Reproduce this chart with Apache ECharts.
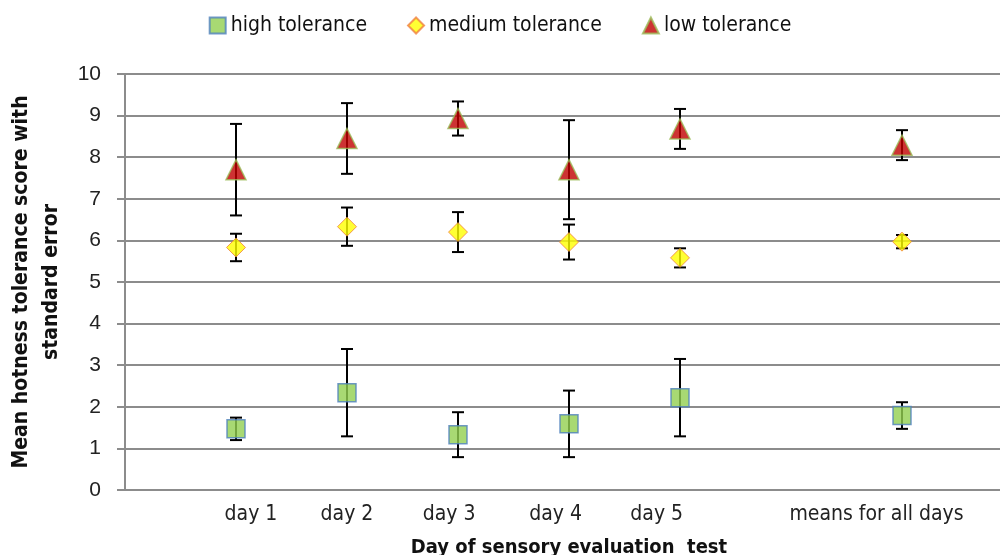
<!DOCTYPE html>
<html>
<head>
<meta charset="utf-8">
<script src="https://cdn.jsdelivr.net/npm/echarts@6/dist/echarts.min.js"></script>
<style>html,body{margin:0;padding:0;background:#fff}#c{width:1000px;height:555px}</style>
</head>
<body>
<div id="c"></div>
<script>
const categories = ['day 1', 'day 2', 'day 3', 'day 4', 'day 5', 'means for all days'];
const xPositions = [1, 2, 3, 4, 5, 7];
const highMean = [1.47, 2.34, 1.33, 1.59, 2.22, 1.79];
const highErr  = [0.27, 1.05, 0.54, 0.80, 0.93, 0.32];
const medMean  = [5.83, 6.33, 6.20, 5.96, 5.58, 5.97];
const medErr   = [0.33, 0.46, 0.48, 0.42, 0.23, 0.16];
const lowMean  = [7.70, 8.45, 8.93, 7.70, 8.68, 8.29];
const lowErr   = [1.10, 0.85, 0.41, 1.19, 0.48, 0.36];
const yTicks = [0,1,2,3,4,5,6,7,8,9,10];
// where Excel placed each category label (axis units)
const labelAt = [1.135, 2.0, 2.92, 3.88, 4.79, 6.77];

const FONT = '"Liberation Sans Narrow","DejaVu Sans Condensed","Liberation Sans",sans-serif';

function pts(means) { return means.map((m, i) => [xPositions[i], m]); }
function errs(means, e) { return means.map((m, i) => [xPositions[i], m - e[i], m + e[i]]); }

function errRender(params, api) {
  const x = api.value(0);
  const lo = api.coord([x, api.value(1)]);
  const hi = api.coord([x, api.value(2)]);
  const cap = 6;
  const style = { stroke: '#000', lineWidth: 2 };
  return {
    type: 'group',
    children: [
      { type: 'line', shape: { x1: lo[0], y1: lo[1], x2: hi[0], y2: hi[1] }, style },
      { type: 'line', shape: { x1: lo[0] - cap, y1: lo[1], x2: lo[0] + cap, y2: lo[1] }, style },
      { type: 'line', shape: { x1: hi[0] - cap, y1: hi[1], x2: hi[0] + cap, y2: hi[1] }, style }
    ]
  };
}

const chart = echarts.init(document.getElementById('c'), null, { renderer: 'canvas' });
const errSeries = (d) => ({
  type: 'custom', renderItem: errRender, data: d, z: 1, silent: true,
  encode: { x: 0, y: [1, 2] }
});
chart.setOption({
  animation: false,
  backgroundColor: '#fff',
  legend: {
    top: 10, left: 'center', itemGap: 40, itemWidth: 16, itemHeight: 16,
    textStyle: { fontFamily: FONT, fontSize: 21, color: '#111' },
    data: ['high tolerance', 'medium tolerance', 'low tolerance']
  },
  grid: { left: 125, right: -13, top: 74, bottom: 65, outerBoundsMode: 'none', containLabel: false },
  xAxis: {
    type: 'value', min: 0, max: 8, interval: 1,
    name: 'Day of sensory evaluation  test', nameLocation: 'middle', nameGap: 48,
    nameTextStyle: { fontFamily: FONT, fontSize: 20, fontWeight: 'bold', color: '#111' },
    axisLine: { show: false }, axisTick: { show: false }, splitLine: { show: false },
    axisLabel: {
      customValues: labelAt, margin: 14,
      fontFamily: FONT, fontSize: 21, color: '#222',
      formatter: (v) => { const i = labelAt.findIndex(p => Math.abs(p - v) < 1e-6); return i >= 0 ? categories[i] : ''; }
    }
  },
  yAxis: {
    type: 'value', min: 0, max: 10, interval: 1,
    name: 'Mean hotness tolerance score with\nstandard error', nameLocation: 'middle', nameGap: 56, nameRotate: 90,
    nameTextStyle: { fontFamily: FONT, fontSize: 21, fontWeight: 'bold', color: '#111', lineHeight: 30 },
    axisLine: { show: true, lineStyle: { color: '#8c8c8c', width: 2 } },
    axisTick: { show: true, length: 8, lineStyle: { color: '#8c8c8c', width: 2 } },
    splitLine: { show: true, lineStyle: { color: '#8c8c8c', width: 2 } },
    axisLabel: { margin: 24, fontFamily: '"Liberation Sans",sans-serif', fontSize: 21, color: '#222',
      formatter: (v) => yTicks.includes(v) ? String(v) : '' }
  },
  series: [
    errSeries(errs(highMean, highErr)),
    errSeries(errs(medMean, medErr)),
    errSeries(errs(lowMean, lowErr)),
    { name: 'high tolerance', type: 'scatter', symbol: 'rect', symbolSize: 18, z: 3, data: pts(highMean),
      itemStyle: { color: '#92d050', borderColor: '#4f81bd', borderWidth: 1.5 } },
    { name: 'medium tolerance', type: 'scatter', symbol: 'diamond', symbolSize: 19, z: 3, data: pts(medMean),
      itemStyle: { color: '#ffff00', borderColor: '#f08040', borderWidth: 1 } },
    { name: 'low tolerance', type: 'scatter', symbol: 'triangle', symbolSize: 20, z: 3, data: pts(lowMean),
      itemStyle: { color: '#c00000', borderColor: '#9bbb59', borderWidth: 1.5 } }
  ]
});
</script>
</body>
</html>
